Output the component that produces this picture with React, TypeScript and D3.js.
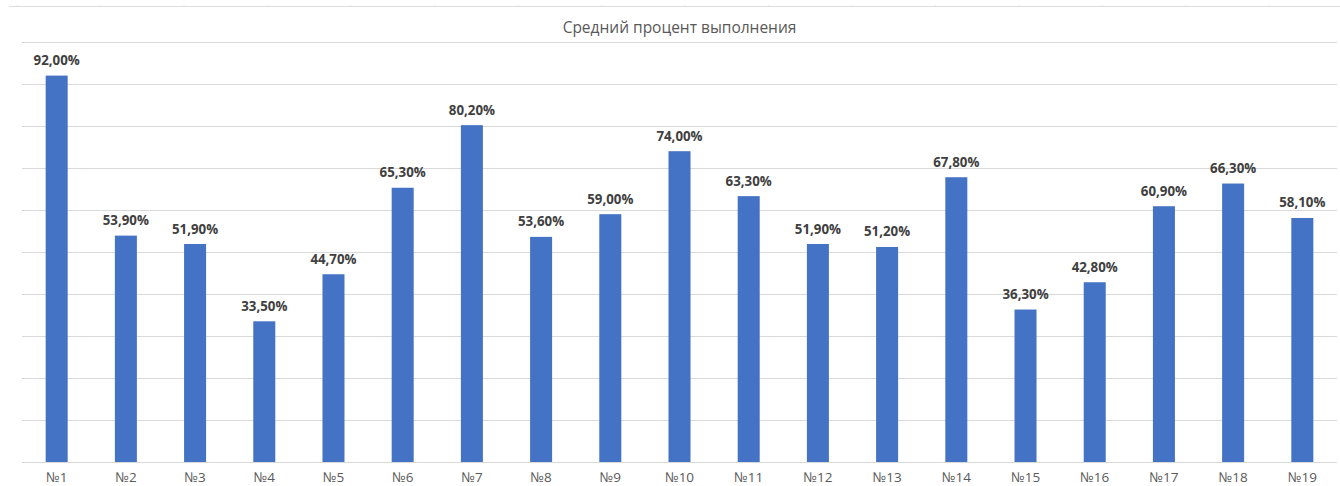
import React, { useEffect, useRef } from 'react';
import * as d3 from 'd3';

// данные диаграммы
const categories = ['№1', '№2', '№3', '№4', '№5', '№6', '№7', '№8', '№9', '№10',
  '№11', '№12', '№13', '№14', '№15', '№16', '№17', '№18', '№19'];
const values = [92.0, 53.9, 51.9, 33.5, 44.7, 65.3, 80.2, 53.6, 59.0, 74.0,
  63.3, 51.9, 51.2, 67.8, 36.3, 42.8, 60.9, 66.3, 58.1];
const gridTicks = [0, 10, 20, 30, 40, 50, 60, 70, 80, 90, 100];
const title = 'Средний процент выполнения';

const fmt = (v: number) => v.toFixed(2).replace('.', ',') + '%';

export default function App() {
  const ref = useRef<SVGSVGElement | null>(null);

  useEffect(() => {
    const width = 1340;
    const height = 486;
    const svg = d3.select(ref.current);
    svg.selectAll('*').remove();
    svg.attr('width', width).attr('height', height);

    const font = '"Open Sans", "Noto Sans", sans-serif';

    // верхняя рамка листа с мелкими засечками
    svg.append('line')
      .attr('x1', 9).attr('x2', width)
      .attr('y1', 6.5).attr('y2', 6.5)
      .attr('stroke', '#dcdcdc')
      .attr('stroke-width', 1);
    svg.selectAll('.cell-tick').data(d3.range(16)).enter().append('line')
      .attr('class', 'cell-tick')
      .attr('x1', d => 17 + d * 83.5).attr('x2', d => 17 + d * 83.5)
      .attr('y1', 5).attr('y2', 6.5)
      .attr('stroke', '#e4e4e4');

    const x = d3.scaleBand<string>()
      .domain(categories)
      .range([22, 1337])
      .paddingInner(0.682)
      .paddingOuter(0.342);

    const y = d3.scaleLinear()
      .domain([0, 100])
      .range([462, 42]);

    // сетка
    svg.append('g').selectAll('line').data(gridTicks).enter().append('line')
      .attr('x1', 22).attr('x2', 1337)
      .attr('y1', d => Math.round(y(d)) + 0.5)
      .attr('y2', d => Math.round(y(d)) + 0.5)
      .attr('stroke', '#d9d9d9')
      .attr('stroke-width', 1);

    // заголовок
    svg.append('text')
      .attr('x', (22 + 1337) / 2)
      .attr('y', 33)
      .attr('text-anchor', 'middle')
      .attr('font-family', font)
      .attr('font-size', 15.5)
      .attr('fill', '#595959')
      .text(title);

    // столбцы
    svg.append('g').selectAll('rect').data(values).enter().append('rect')
      .attr('x', (d, i) => x(categories[i]) as number)
      .attr('y', d => y(d))
      .attr('width', x.bandwidth())
      .attr('height', d => y(0) - y(d))
      .attr('fill', '#4472c4');

    // подписи значений
    svg.append('g').selectAll('text').data(values).enter().append('text')
      .attr('x', (d, i) => (x(categories[i]) as number) + x.bandwidth() / 2)
      .attr('y', d => y(d) - 10.5)
      .attr('text-anchor', 'middle')
      .attr('font-family', font)
      .attr('font-size', 13.3)
      .attr('font-weight', 'bold')
      .attr('fill', '#404040')
      .text(d => fmt(d));

    // подписи категорий
    svg.append('g').selectAll('text').data(categories).enter().append('text')
      .attr('x', d => (x(d) as number) + x.bandwidth() / 2)
      .attr('y', 481.5)
      .attr('text-anchor', 'middle')
      .attr('font-family', font)
      .attr('font-size', 13.5)
      .attr('fill', '#595959')
      .text(d => d);
  }, []);

  return (
    <div style={{ position: 'absolute', left: 0, top: 0, width: 1340, height: 486, background: '#fff' }}>
      <svg ref={ref} style={{ display: 'block' }}></svg>
    </div>
  );
}
